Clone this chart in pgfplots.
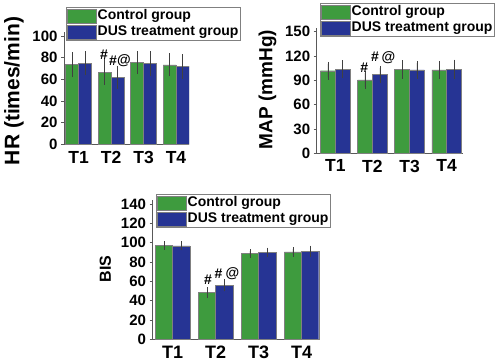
\documentclass[border=0pt]{standalone}
\usepackage{fontspec}
\setmainfont{Liberation Sans}
\usepackage{pgfplots}
\pgfplotsset{compat=1.18}
\definecolor{cgreen}{RGB}{62,155,62}
\definecolor{cblue}{RGB}{38,52,148}
\pgfplotsset{
 myaxis/.style={
  scale only axis,
  axis x line*=bottom, axis y line*=left,
  axis line style={black!65, line width=0.9pt},
  ybar=0pt, bar width=0.4,
  xtick={1,2,3,4}, xticklabels={T1,T2,T3,T4},
  x tick style={draw=none},
  y tick style={black!65, line width=0.7pt},
  tick align=outside, major tick length=3pt,
  ymin=0,
  enlargelimits=false,
  xticklabel style={font=\fontsize{17.5}{18}\selectfont\bfseries},
  yticklabel style={font=\fontsize{15}{15}\selectfont\bfseries},
  /pgf/number format/assume math mode=true,
  legend style={draw=black!50, line width=0.6pt, font=\fontsize{14}{14}\selectfont\bfseries,
    inner sep=1pt, row sep=0pt, column sep=0pt,
    nodes={inner sep=1pt, text height=10.3pt, text depth=3.4pt}, cells={anchor=west}},
  legend image code/.code={\draw[##1] (0pt,-7pt) rectangle (29pt,7pt);},
  error bars/y dir=both, error bars/y explicit,
  error bars/error bar style={black!75, line width=0.6pt},
  error bars/error mark options={black!75, line width=0.6pt, mark size=2pt},
 },
 gbar/.style={fill=cgreen, draw=black!50, line width=0.4pt},
 bbar/.style={fill=cblue, draw=black!50, line width=0.4pt},
}
\begin{document}
\begin{tikzpicture}
\useasboundingbox (0pt,0pt) rectangle (500pt,363pt);
% ---------- HR ----------
\begin{axis}[myaxis, at={(64pt,218.5pt)}, anchor=south west,
  width=125pt, height=112.8pt, xmin=0.55, xmax=4.4, ymax=104,
  ytick={0,20,40,60,80,100},
  ylabel={HR (times/min)},
  ylabel style={font=\fontsize{21}{21}\selectfont\bfseries, at={(axis description cs:-0.4,0.475)}, anchor=center},
  legend style={at={(0.016,1.219)}, anchor=north west},
]
\addplot[gbar] coordinates {(1,73.6) +- (0,9.7) (2,66.7) +- (0,10) (3,75.5) +- (0,8.8) (4,73.5) +- (0,8.8)};
\addplot[bbar] coordinates {(1,74.8) +- (0,9.1) (2,62) +- (0,8.8) (3,74.5) +- (0,9.5) (4,72) +- (0,9.5)};
\legend{Control group, DUS treatment group}
\node[font=\fontsize{14}{14}\selectfont\bfseries] at (axis cs:1.78,82.5) {\#};
\node[font=\fontsize{14}{14}\selectfont\bfseries] at (axis cs:2.06,77) {\#};
\node[font=\fontsize{14}{14}\selectfont\bfseries] at (axis cs:2.4,77) {@};
\end{axis}
% ---------- MAP ----------
\begin{axis}[myaxis, at={(316.7pt,209.7pt)}, anchor=south west,
  width=146.7pt, height=124.9pt, xmin=0.5, xmax=4.45, ymax=154,
  ytick={0,30,60,90,120,150},
  ylabel={MAP (mmHg)},
  ylabel style={font=\fontsize{19}{19}\selectfont\bfseries, at={(axis description cs:-0.335,0.51)}, anchor=center},
  legend style={at={(0.0225,1.203)}, anchor=north west},
]
\addplot[gbar] coordinates {(1,101.8) +- (0,8.5) (2,90.4) +- (0,8.5) (3,103.3) +- (0,8.8) (4,102.7) +- (0,8.8)};
\addplot[bbar] coordinates {(1,103.4) +- (0,8.6) (2,97) +- (0,8.2) (3,102.7) +- (0,8.4) (4,103.8) +- (0,9.2)};
\legend{Control group, DUS treatment group}
\node[font=\fontsize{14}{14}\selectfont\bfseries] at (axis cs:1.78,106) {\#};
\node[font=\fontsize{14}{14}\selectfont\bfseries] at (axis cs:2.07,119) {\#};
\node[font=\fontsize{14}{14}\selectfont\bfseries] at (axis cs:2.43,117.5) {@};
\end{axis}
% ---------- BIS ----------
\begin{axis}[myaxis, at={(152.5pt,23.5pt)}, anchor=south west,
  width=167.5pt, height=139.4pt, xmin=0.53, xmax=4.43, ymax=144,
  ytick={0,20,40,60,80,100,120,140},
  xticklabel style={font=\fontsize{18}{18}\selectfont\bfseries},
  ylabel={BIS},
  ylabel style={font=\fontsize{16}{16}\selectfont\bfseries, at={(axis description cs:-0.281,0.508)}, anchor=center},
  legend style={at={(0.021,1.044)}, anchor=north west},
]
\addplot[gbar] coordinates {(1,97) +- (0,2.4) (2,48.4) +- (0,3.7) (3,89) +- (0,2.4) (4,90.5) +- (0,2.8)};
\addplot[bbar] coordinates {(1,96.8) +- (0,2.6) (2,56) +- (0,4.1) (3,90) +- (0,2.8) (4,91.3) +- (0,3.6)};
\legend{Control group, DUS treatment group}
\node[font=\fontsize{14}{14}\selectfont\bfseries] at (axis cs:1.82,61.5) {\#};
\node[font=\fontsize{14}{14}\selectfont\bfseries] at (axis cs:2.07,68.4) {\#};
\node[font=\fontsize{14}{14}\selectfont\bfseries] at (axis cs:2.39,67.8) {@};
\end{axis}
\end{tikzpicture}
\end{document}
